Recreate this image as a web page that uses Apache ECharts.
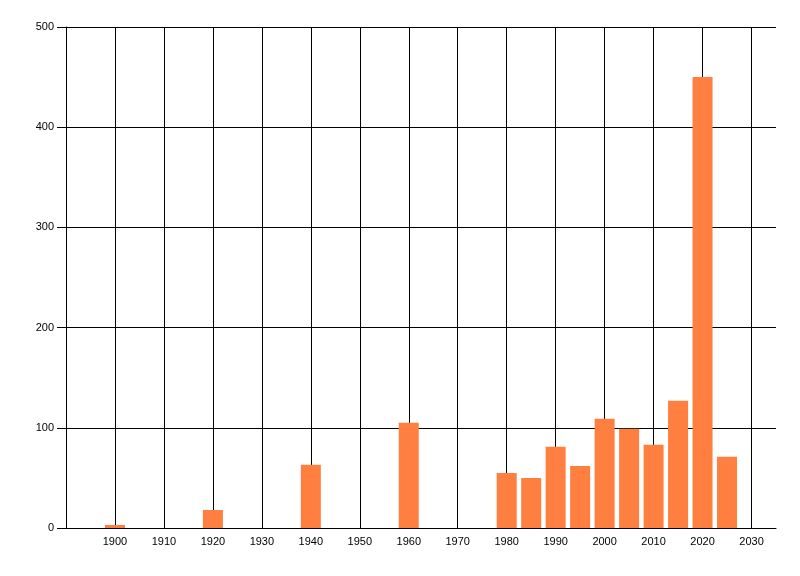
<!DOCTYPE html>
<html>
<head>
<meta charset="utf-8">
<script src="https://cdn.jsdelivr.net/npm/echarts@6/dist/echarts.min.js"></script>
<style>html,body{margin:0;padding:0;background:#fff;}#c{width:800px;height:576px;}</style>
</head>
<body>
<div id="c"></div>
<script>
var years = [1900, 1920, 1940, 1960, 1980, 1985, 1990, 1995, 2000, 2005, 2010, 2015, 2020, 2025];
var counts = [3, 18, 63, 105, 55, 50, 81, 62, 109, 99, 83, 127, 450, 71];
var xTicks = [1900, 1910, 1920, 1930, 1940, 1950, 1960, 1970, 1980, 1990, 2000, 2010, 2020, 2030];
var xMin = 1890, xMax = 2035;
var yMin = 0, yMax = 500, yStep = 100;

var data = years.map(function (y, i) { return [y, counts[i]]; });
var chart = echarts.init(document.getElementById('c'), null, {renderer: 'canvas'});
var font = {fontFamily: 'Liberation Sans', fontSize: 11, color: '#000'};
chart.setOption({
  animation: false,
  backgroundColor: '#fff',
  grid: {left: 66, right: 24, top: 27, bottom: 48, containLabel: false},
  xAxis: {
    type: 'value', min: xMin, max: xMax,
    axisLine: {show: true, onZero: false, lineStyle: {color: '#000', width: 1}},
    axisTick: {show: false, customValues: xTicks},
    axisLabel: Object.assign({customValues: xTicks, margin: 8, formatter: function (v) { return String(v); }}, font),
    splitLine: {show: true, lineStyle: {color: '#000', width: 1}}
  },
  yAxis: {
    type: 'value', min: yMin, max: yMax, interval: yStep,
    axisLine: {show: true, lineStyle: {color: '#000', width: 1}},
    axisTick: {show: true, length: 9, lineStyle: {color: '#000'}},
    axisLabel: Object.assign({margin: 12}, font),
    splitLine: {show: true, lineStyle: {color: '#000', width: 1}}
  },
  series: [{
    type: 'bar',
    data: data,
    barWidth: 20,
    itemStyle: {color: '#FF7F40'}
  }]
});
</script>
</body>
</html>
